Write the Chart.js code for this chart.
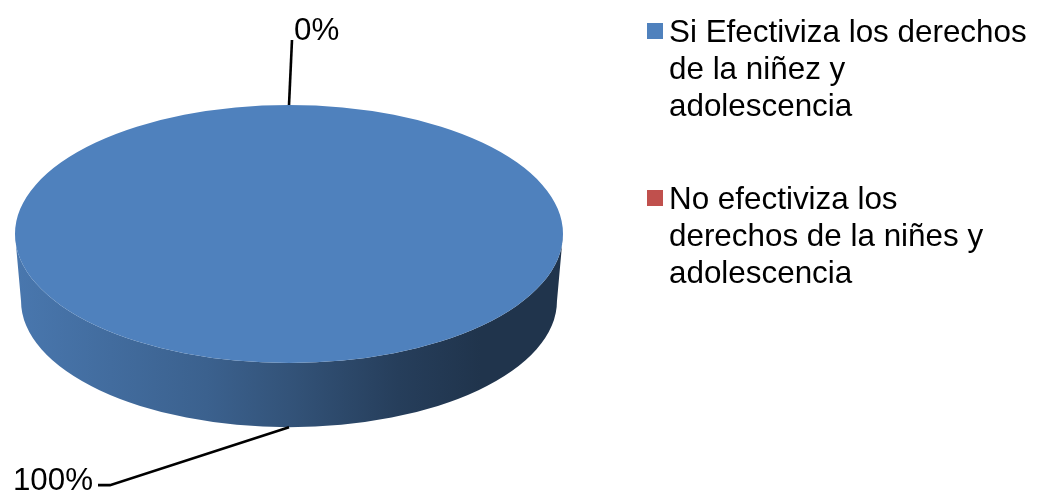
<!DOCTYPE html>
<html lang="es">
<head>
<meta charset="utf-8">
<title>Efectivización de derechos</title>
<script src="https://cdn.jsdelivr.net/npm/chart.js@4.4.1/dist/chart.umd.min.js"></script>
<style>
    html, body { margin: 0; padding: 0; background: #fff; }
    #wrap { position: relative; width: 1038px; height: 491px; overflow: hidden; }
    #grafico { position: absolute; left: 0; top: 0; }
    #leyenda {
        position: absolute; left: 647px; top: 13px;
        font: 31.4px "Liberation Sans", Arial, sans-serif;
        line-height: 37px; color: #000;
    }
    .item { position: relative; padding-left: 22px; margin-bottom: 56px; white-space: nowrap; }
    .item .caja { position: absolute; left: 0; top: 10px; width: 16px; height: 16px; }
</style>
</head>
<body>
<div id="wrap">
    <canvas id="grafico" width="1038" height="491"></canvas>
    <div id="leyenda"></div>
</div>

<script>
// --- Datos ---
const categorias = [
    ['Si Efectiviza los derechos', 'de la niñez y', 'adolescencia'],
    ['No efectiviza los', 'derechos de la niñes y', 'adolescencia']
];
const valores = [100, 0];
const colores = ['#4F81BD', '#C0504D'];

// --- Oscurece un color hex ---
function sombra(hex, f) {
    const n = parseInt(hex.slice(1), 16);
    const r = Math.round(((n >> 16) & 255) * f);
    const g = Math.round(((n >> 8) & 255) * f);
    const b = Math.round((n & 255) * f);
    return `rgb(${r},${g},${b})`;
}

// --- Plugin: pastel inclinado con canto y etiquetas ---
const pastel3d = {
    id: 'pastel3d',

    beforeDatasetsDraw(chart, args, o) {
        const ctx = chart.ctx;
        const meta = chart.getDatasetMeta(0);
        const { x, y, outerRadius } = meta.data[0];
        const rxb = o.rx * o.shrink, ryb = o.ry * o.shrink, cyb = o.cy + o.depth;

        // canto frontal (solo la mitad visible, 0..PI)
        meta.data.forEach((arc, i) => {
            const base = chart.data.datasets[0].backgroundColor[i];
            for (const k of [-1, 0, 1]) {
                const a0 = Math.max(arc.startAngle + 2 * Math.PI * k, 0);
                const a1 = Math.min(arc.endAngle + 2 * Math.PI * k, Math.PI);
                if (a1 <= a0) continue;

                const grad = ctx.createLinearGradient(o.cx - o.rx, 0, o.cx + o.rx, 0);
                o.sideStops.forEach(([p, f]) => grad.addColorStop(p, sombra(base, f)));

                ctx.beginPath();
                ctx.ellipse(o.cx, o.cy, o.rx, o.ry, 0, a0, a1, false);
                ctx.ellipse(o.cx, cyb, rxb, ryb, 0, a1, a0, true);
                ctx.closePath();
                ctx.fillStyle = grad;
                ctx.fill();
            }
        });

        // cara superior: se aplasta el círculo de Chart.js a elipse
        ctx.save();
        ctx.translate(o.cx, o.cy);
        ctx.scale(o.rx / outerRadius, o.ry / outerRadius);
        ctx.translate(-x, -y);
    },

    afterDatasetsDraw(chart, args, o) {
        const ctx = chart.ctx;
        ctx.restore();

        const meta = chart.getDatasetMeta(0);
        const datos = chart.data.datasets[0].data;
        const total = datos.reduce((a, v) => a + v, 0);
        const rxb = o.rx * o.shrink, ryb = o.ry * o.shrink, cyb = o.cy + o.depth;

        ctx.save();
        ctx.font = o.font;
        ctx.fillStyle = '#000';
        ctx.strokeStyle = '#000';
        ctx.lineWidth = 2.6;

        meta.data.forEach((arc, i) => {
            const c = o.callouts[i];
            const mid = (arc.startAngle + arc.endAngle) / 2;
            const frente = Math.sin(mid) > 0;
            const px = frente ? o.cx + rxb * Math.cos(mid) : o.cx + o.rx * Math.cos(mid);
            const py = frente ? cyb + ryb * Math.sin(mid) : o.cy + o.ry * Math.sin(mid);
            const ex = px + c.dx, ey = py + c.dy;

            ctx.beginPath();
            ctx.moveTo(px, py);
            ctx.lineTo(ex, ey);
            ctx.lineTo(ex + c.elbow, ey);
            ctx.stroke();

            const pct = Math.round(datos[i] / total * 100) + '%';
            ctx.textAlign = c.align;
            ctx.textBaseline = 'alphabetic';
            ctx.fillText(pct, ex + c.elbow + c.tx, ey + c.ty);
        });
        ctx.restore();
    }
};

// --- Gráfico ---
const chart = new Chart(document.getElementById('grafico'), {
    type: 'pie',
    data: {
        labels: categorias.map(l => l.join(' ')),
        datasets: [{
            data: valores,
            backgroundColor: colores,
            borderWidth: 0,
            clip: false
        }]
    },
    options: {
        responsive: false,
        animation: false,
        events: [],
        plugins: {
            legend: { display: false },
            tooltip: { enabled: false },
            pastel3d: {
                cx: 289, cy: 234, rx: 274, ry: 129,
                depth: 67, shrink: 0.978,
                sideStops: [[0, 0.92], [0.35, 0.75], [0.5, 0.64], [0.7, 0.48], [0.85, 0.40], [1, 0.40]],
                font: '31.3px "Liberation Sans", Arial, sans-serif',
                callouts: [
                    { dx: -179, dy: 58, elbow: -12, align: 'right', tx: -5, ty: 5 },
                    { dx: 3, dy: -65, elbow: 0, align: 'left', tx: 2, ty: 0 }
                ]
            }
        }
    },
    plugins: [pastel3d]
});

// --- Leyenda ---
document.getElementById('leyenda').innerHTML = categorias.map((lineas, i) => `
    <div class="item">
        <div class="caja" style="background:${colores[i]}"></div>
        ${lineas.join('<br>')}
    </div>
`).join('');
</script>
</body>
</html>
